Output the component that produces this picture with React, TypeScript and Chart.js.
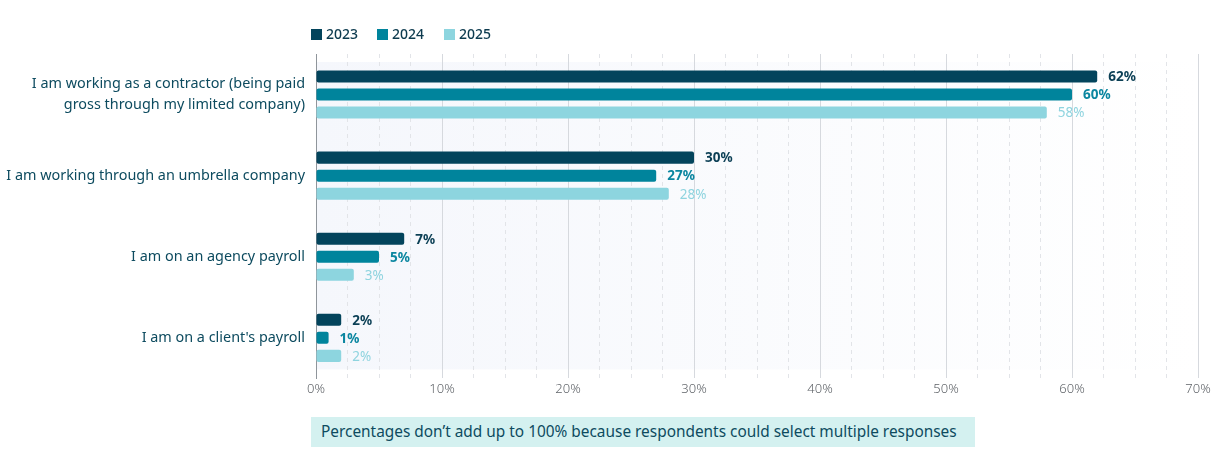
import React, { useEffect, useRef } from "react";
import { Chart, registerables } from "chart.js";

Chart.register(...registerables);

const categories: (string | string[])[] = [
  ["I am working as a contractor (being paid", "gross through my limited company)"],
  "I am working through an umbrella company",
  "I am on an agency payroll",
  "I am on a client's payroll",
];
const seriesNames = ["2023", "2024", "2025"];
const values2023 = [62, 30, 7, 2];
const values2024 = [60, 27, 5, 1];
const values2025 = [58, 28, 3, 2];
const xTickMax = 70;
const xTickStep = 2.5;
const footnote = "Percentages don\u2019t add up to 100% because respondents could select multiple responses";

const barColors = ["#03445c", "#00849c", "#8dd5df"];
const labelColors = ["#0b3f55", "#0a86a0", "#8fd4df"];
const labelWeights = ["bold", "bold", "normal"];
const FONT = "'Noto Sans', Lato, sans-serif";

export default function App() {
  const ref = useRef<HTMLCanvasElement | null>(null);

  useEffect(() => {
    if (!ref.current) return;

    const bgPlugin = {
      id: "bgPlugin",
      beforeDraw(chart: any) {
        const { ctx, chartArea } = chart;
        const top = chartArea.top + 8;
        const bottom = chartArea.bottom - 9;
        const g = ctx.createLinearGradient(chartArea.left, 0, chartArea.right, 0);
        g.addColorStop(0, "#f5f7fc");
        g.addColorStop(1, "#ffffff");
        ctx.save();
        ctx.fillStyle = g;
        ctx.fillRect(chartArea.left, top, chartArea.right - chartArea.left, bottom - top);
        ctx.restore();
      },
    };

    const labelPlugin = {
      id: "labelPlugin",
      afterDatasetsDraw(chart: any) {
        const { ctx } = chart;
        ctx.save();
        chart.data.datasets.forEach((ds: any, di: number) => {
          const meta = chart.getDatasetMeta(di);
          meta.data.forEach((bar: any, i: number) => {
            ctx.font = `${labelWeights[di]} 13.5px ${FONT}`;
            ctx.fillStyle = labelColors[di];
            ctx.textAlign = "left";
            ctx.textBaseline = "middle";
            ctx.fillText(`${ds.data[i]}%`, bar.x + 11, bar.y + 1);
          });
        });
        ctx.restore();
      },
    };

    const legendPlugin = {
      id: "customLegend",
      afterDraw(chart: any) {
        const { ctx } = chart;
        const xs = [311, 377, 444];
        ctx.save();
        ctx.font = `500 14px ${FONT}`;
        ctx.textBaseline = "middle";
        ctx.textAlign = "left";
        chart.data.datasets.forEach((ds: any, di: number) => {
          ctx.fillStyle = ds.backgroundColor;
          ctx.fillRect(xs[di], 29, 11, 11);
          ctx.fillStyle = "#0d3b4f";
          ctx.fillText(ds.label, xs[di] + 15, 35);
        });
        ctx.restore();
      },
    };

    const chart = new Chart(ref.current, {
      type: "bar",
      data: {
        labels: categories,
        datasets: [values2023, values2024, values2025].map((d, i) => ({
          label: seriesNames[i],
          data: d,
          backgroundColor: barColors[i],
          borderRadius: 2,
          borderSkipped: false,
          categoryPercentage: 0.667,
          barPercentage: 0.667,
        })),
      },
      options: {
        indexAxis: "y",
        animation: false,
        responsive: true,
        maintainAspectRatio: false,
        layout: { padding: { top: 54, right: 32, left: 0, bottom: 0 } },
        plugins: {
          legend: { display: false },
          tooltip: { enabled: false },
        },
        scales: {
          x: {
            min: 0,
            max: xTickMax,
            afterFit(scale: any) {
              scale.height = 22;
            },
            ticks: {
              stepSize: xTickStep,
              autoSkip: false,
              maxRotation: 0,
              padding: 3,
              color: "#5f6368",
              font: { family: FONT, size: 13, weight: 300 },
              callback: (v: any) => (Number(v) % 10 === 0 ? `${v}%` : ""),
            },
            grid: {
              drawTicks: false,
              color: (ctx: any) =>
                ctx.tick && ctx.tick.value % 10 === 0 ? "#d6d9de" : "#e2e4e8",
              lineWidth: 1,
            },
            border: {
              display: false,
              dash: (ctx: any) =>
                ctx.tick && ctx.tick.value % 10 !== 0 ? [4, 4] : [],
            },
          },
          y: {
            afterFit(scale: any) {
              scale.width = 316;
            },
            ticks: {
              padding: 11,
              color: "#0d4b5f",
              font: { family: FONT, size: 14.4, lineHeight: 1.5 },
            },
            grid: { display: false, drawTicks: false },
            border: { display: true, color: "#8f959b", width: 1 },
          },
        },
      },
      plugins: [bgPlugin, labelPlugin, legendPlugin],
    });

    return () => chart.destroy();
  }, []);

  return (
    <div
      style={{
        position: "fixed",
        left: 0,
        top: 0,
        width: 1230,
        height: 467,
        background: "#ffffff",
        fontFamily: FONT,
      }}
    >
      <div style={{ position: "absolute", left: 0, top: 0, width: 1230, height: 411 }}>
        <canvas ref={ref} />
      </div>
      <div
        style={{
          position: "absolute",
          left: 311,
          top: 417,
          width: 664,
          height: 30,
          background: "#d4f1f0",
          color: "#0d4b5f",
          fontSize: 15.4,
          lineHeight: "30px",
          paddingLeft: 10,
          boxSizing: "border-box",
          whiteSpace: "nowrap",
        }}
      >
        {footnote}
      </div>
    </div>
  );
}
